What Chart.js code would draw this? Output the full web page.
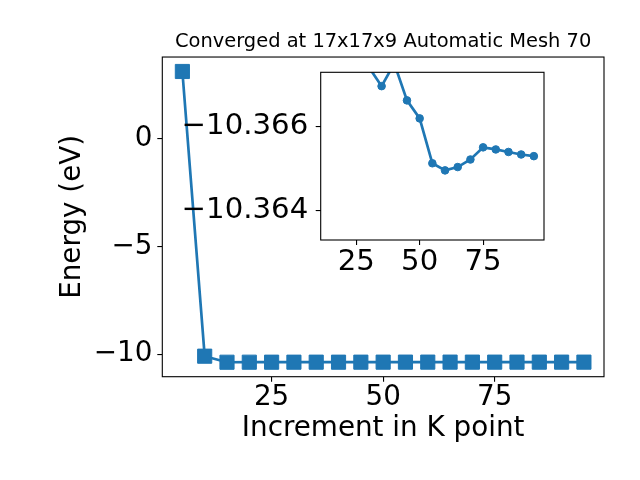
<!DOCTYPE html>
<html>
<head>
<meta charset="utf-8">
<script src="https://cdn.jsdelivr.net/npm/chart.js@4/dist/chart.umd.min.js"></script>
<style>
  body { margin: 0; background: #ffffff; }
  #wrap { position: relative; width: 640px; height: 480px; }
  #wrap canvas { position: absolute; left: 0; top: 0; }
</style>
</head>
<body>
<div id="wrap">
  <canvas id="mainChart" width="640" height="480"></canvas>
  <canvas id="insetChart" width="640" height="480"></canvas>
</div>
<script>
// k-point mesh increments and total energies (eV)
const kpoints = [5, 10, 15, 20, 25, 30, 35, 40, 45, 50, 55, 60, 65, 70, 75, 80, 85, 90, 95];
const energy = [3.10, -10.09, -10.3700, -10.3685, -10.3680, -10.36741, -10.36696, -10.3675, -10.36662,
                -10.36619, -10.36512, -10.36495, -10.36503, -10.36521, -10.36550, -10.36545, -10.36539,
                -10.36533, -10.36529];

const mainXTicks = [25, 50, 75];
const mainYTicks = [-10, -5, 0];
const insetXTicks = [25, 50, 75];
const insetYTicks = [-10.366, -10.364];

const titleText = 'Converged at 17x17x9 Automatic Mesh 70';
const xTitle = 'Increment in K point';
const yTitle = 'Energy (eV)';

const blue = '#1f77b4';
const fontFamily = "'DejaVu Sans', sans-serif";
const bigFont = 27.8;
const insetFont = 29.2;

function fmtNum(v, digits) {
    const s = digits ? Math.abs(v).toFixed(digits) : String(Math.abs(v));
    return v < 0 ? '\u2212' + s : s;
}

const framePlugin = {
    id: 'frame',
    beforeDraw(chart, args, opts) {
        if (!opts.fill) return;
        const a = chart.chartArea;
        chart.ctx.save();
        chart.ctx.fillStyle = '#ffffff';
        chart.ctx.fillRect(a.left, a.top, a.right - a.left, a.bottom - a.top);
        chart.ctx.restore();
    },
    afterDraw(chart) {
        const a = chart.chartArea;
        const ctx = chart.ctx;
        ctx.save();
        ctx.strokeStyle = '#000000';
        ctx.lineWidth = 1.1;
        ctx.strokeRect(a.left, a.top, a.right - a.left, a.bottom - a.top);
        ctx.restore();
    }
};

function tickGrid() {
    return { display: true, drawOnChartArea: false, drawTicks: true, tickLength: 5, color: '#000000', lineWidth: 1.1 };
}

Chart.defaults.font.family = fontFamily;
Chart.defaults.color = '#000000';

new Chart(document.getElementById('mainChart').getContext('2d'), {
    type: 'line',
    data: {
        datasets: [{
            data: kpoints.map((k, i) => ({ x: k, y: energy[i] })),
            borderColor: blue,
            backgroundColor: blue,
            borderWidth: 2.7,
            pointStyle: 'rect',
            pointRadius: 10,
            pointBorderWidth: 1,
            pointBackgroundColor: blue,
            pointBorderColor: blue,
            tension: 0
        }]
    },
    options: {
        responsive: false,
        animation: false,
        devicePixelRatio: 1,
        layout: { padding: { left: 0, right: 36, top: 0, bottom: 0 } },
        scales: {
            x: {
                type: 'linear',
                min: 0.5,
                max: 99.5,
                afterBuildTicks: (axis) => { axis.ticks = mainXTicks.map(v => ({ value: v })); },
                afterFit: (axis) => { axis.height = 103.3; },
                grid: tickGrid(),
                border: { display: false },
                ticks: { font: { size: bigFont, lineHeight: 1 }, padding: 2.5, maxRotation: 0, callback: (v) => fmtNum(v) },
                title: { display: true, text: xTitle, font: { size: bigFont }, padding: { top: 0, bottom: 34.9 } }
            },
            y: {
                type: 'linear',
                min: -11.04,
                max: 3.77,
                afterBuildTicks: (axis) => { axis.ticks = mainYTicks.map(v => ({ value: v })); },
                afterFit: (axis) => { axis.width = 162.3; },
                grid: tickGrid(),
                border: { display: false },
                ticks: { font: { size: bigFont, lineHeight: 1 }, padding: 4.9, callback: (v) => fmtNum(v) },
                title: { display: true, text: yTitle, font: { size: bigFont }, padding: { top: 55.7, bottom: 0 } }
            }
        },
        plugins: {
            legend: { display: false },
            tooltip: { enabled: false },
            title: {
                display: true,
                text: titleText,
                fullSize: false,
                color: '#000000',
                font: { size: 19.44, weight: 'normal' },
                padding: { top: 30.6, bottom: 3.1 }
            },
            frame: { fill: false }
        }
    },
    plugins: [framePlugin]
});

const insetK = kpoints.slice(2);
const insetE = energy.slice(2);

new Chart(document.getElementById('insetChart').getContext('2d'), {
    type: 'line',
    data: {
        datasets: [{
            data: insetK.map((k, i) => ({ x: k, y: insetE[i] })),
            borderColor: blue,
            backgroundColor: blue,
            borderWidth: 2.7,
            pointStyle: 'circle',
            pointRadius: 3.8,
            pointBorderWidth: 1,
            pointBackgroundColor: blue,
            pointBorderColor: blue,
            tension: 0,
            clip: 0
        }]
    },
    options: {
        responsive: false,
        animation: false,
        devicePixelRatio: 1,
        layout: { padding: { left: 0, right: 96, top: 72.3, bottom: 0 } },
        scales: {
            x: {
                type: 'linear',
                min: 11,
                max: 99,
                afterBuildTicks: (axis) => { axis.ticks = insetXTicks.map(v => ({ value: v })); },
                afterFit: (axis) => { axis.height = 240; },
                grid: tickGrid(),
                border: { display: false },
                ticks: { font: { size: insetFont, lineHeight: 1 }, padding: 2.5, maxRotation: 0, callback: (v) => fmtNum(v) }
            },
            y: {
                type: 'linear',
                reverse: true,
                min: -10.36729,
                max: -10.36329,
                afterBuildTicks: (axis) => { axis.ticks = insetYTicks.map(v => ({ value: v })); },
                afterFit: (axis) => { axis.width = 320.7; },
                grid: tickGrid(),
                border: { display: false },
                ticks: { font: { size: insetFont, lineHeight: 1 }, padding: 7.5, callback: (v) => fmtNum(v, 3) }
            }
        },
        plugins: {
            legend: { display: false },
            tooltip: { enabled: false },
            title: { display: false },
            frame: { fill: true }
        }
    },
    plugins: [framePlugin]
});
</script>
</body>
</html>
